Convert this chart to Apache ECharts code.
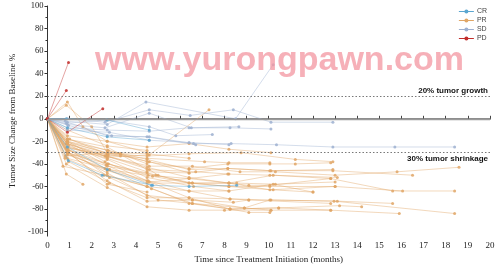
<!DOCTYPE html>
<html><head><meta charset="utf-8">
<script src="https://cdn.jsdelivr.net/npm/echarts@6/dist/echarts.min.js"></script>
<style>html,body{margin:0;padding:0;background:#fff}#c{width:498px;height:269px}</style>
</head><body><div id="c"></div>
<script>
// ---- data ----
const categories = ['CR', 'PR', 'SD', 'PD'];
const xTicks = [0,1,2,3,4,5,6,7,8,9,10,11,12,13,14,15,16,17,18,19,20];
const yTicks = [-100,-80,-60,-40,-20,0,20,40,60,80,100];
const yMinorTicks = [-90,-70,-50,-30,-10,10,30,50,70,90];
const refLines = [20, -30];
const refLabels = ['20% tumor growth', '30% tumor shrinkage'];

const prPatients = [
  [[0,0],[0.9,-18],[2.7,-28],[4.5,-38],[6.4,-44],[8.15,-40],[10.05,-40],[11.2,-40],[12.8,-39]],
  [[0,0],[0.85,-22],[2.6,-33],[4.6,-42],[6.55,-42],[8.7,-47],[10.3,-47],[13.0,-50],[15.8,-47],[18.6,-43]],
  [[0,0],[0.9,-25],[2.7,-35],[4.5,-47],[6.4,-48],[8.15,-44],[10.1,-46],[12.9,-46],[16.5,-50]],
  [[0,0],[0.95,-28],[2.75,-40],[4.55,-50],[6.4,-53],[8.15,-49],[10.05,-50],[13.1,-52]],
  [[0,0],[0.9,-30],[2.7,-42],[4.9,-50],[6.55,-57],[8.2,-57],[10.2,-50],[12.8,-53],[15.6,-64],[18.4,-64]],
  [[0,0],[0.9,-32],[2.8,-45],[4.75,-51],[6.4,-57],[8.2,-60],[10.05,-60],[13.0,-60],[16.05,-64]],
  [[0,0],[0.8,-35],[2.7,-50],[4.5,-60],[6.4,-64],[8.2,-64],[10.2,-58],[12.0,-65]],
  [[0,0],[0.9,-20],[2.6,-38],[4.5,-55],[6.4,-70],[8.25,-71],[10.1,-72],[13.1,-73],[15.6,-75]],
  [[0,0],[0.95,-30],[2.7,-48],[4.5,-68],[6.55,-72],[8.4,-74],[9.1,-72],[12.8,-75]],
  [[0,0],[0.9,-26],[2.8,-52],[5.0,-72],[6.55,-75],[8.25,-80],[10.45,-79],[13.2,-77],[14.2,-78]],
  [[0,0],[0.85,-40],[2.7,-61],[4.5,-78],[6.4,-81],[8.0,-81],[10.1,-81],[12.8,-81],[15.9,-84]],
  [[0,0],[0.9,-30],[2.7,-55],[4.5,-73],[6.55,-72],[8.9,-79],[10.05,-72],[12.95,-73],[18.4,-84]],
  [[0,0],[0.7,-42],[2.55,-50],[4.5,-60],[6.4,-75],[8.25,-80],[9.1,-83],[10.05,-83]],
  [[0,0],[0.85,-49],[1.6,-58]],
  [[0,0],[0.9,-15],[2.7,-20],[4.5,-25],[6.4,-22],[8.2,-27],[10.1,-30]],
  [[0,0],[0.9,-20],[2.7,-31],[4.5,-33],[6.4,-31],[8.75,-30],[11.2,-36],[12.9,-38]],
  [[0,0],[0.9,-22],[2.7,-32],[4.5,-35],[7.1,-38],[8.2,-39],[10.05,-39]],
  [[0,0],[1.0,-18],[2.7,-31],[3.3,-31],[4.5,-40]],
  [[0,0],[0.9,-28],[2.65,-33],[4.6,-45],[5.0,-50]],
  [[0,0],[0.9,15],[1.6,-7],[2.7,-20],[4.5,-30]],
  [[0,0],[0.85,12],[2.0,-7],[2.7,-30],[4.6,-38],[6.4,-48]],
  [[0,0],[0.9,-22],[2.7,-34],[4.6,-32],[7.3,8]],
  [[0,0],[0.9,-25],[2.7,-33],[4.5,-43],[6.4,-52],[8.2,-57],[10.05,-63],[13.0,-60]],
  [[0,0],[0.95,-24],[2.7,-36],[4.5,-52],[6.6,-60],[8.2,-64]],
  [[0,0],[0.9,-35],[2.8,-45],[4.55,-55],[6.4,-64],[8.25,-71],[9.1,-72]],
  [[0,0],[0.9,-30],[2.7,-40],[4.5,-48],[6.4,-57],[8.55,-57],[10.3,-58],[13.0,-56]],
  [[0,0],[0.9,-27],[2.6,-44],[4.7,-62],[6.55,-75],[8.9,-79],[10.1,-81]],
  [[0,0],[0.8,-33],[2.7,-30],[3.3,-31]],
  [[0,0],[0.9,-20],[2.75,-28],[4.5,-36],[6.4,-45],[8.15,-44],[10.05,-46],[12.9,-45]],
  [[0,0],[0.9,-31],[2.7,-46],[4.6,-56],[6.4,-53],[8.2,-57],[9.1,-59],[10.05,-59],[12.8,-53]],
  [[0,0],[0.9,-18],[2.7,-25],[4.5,-45],[6.7,-47],[8.2,-49]],
  [[0,0],[0.95,-38],[2.8,-57],[4.5,-70],[6.4,-70],[8.25,-80],[10.45,-79],[12.8,-81]],
  [[0,0],[0.9,-29],[2.7,-58],[4.5,-65]],
  [[0,0],[0.9,-10],[2.7,-24],[4.5,-28]],
  [[0,0],[0.9,-22],[2.65,-41],[4.5,-57],[6.55,-57],[8.2,-60],[10.2,-63],[12.0,-65]],
  [[0,0],[0.9,-21],[2.7,-30],[4.5,-31],[6.4,-35]],
  [[0,0],[0.85,-26],[2.75,-32],[3.3,-33]]
];
const sdPatients = [
  [[0,0],[0.9,0],[2.6,-3],[4.6,8],[6.45,3],[8.4,8],[10.1,-3],[12.9,-3]],
  [[0,0],[0.8,-2],[2.7,-5],[4.45,15],[8.5,0],[10.2,48]],
  [[0,0],[0.9,-5],[2.6,-8],[4.6,5],[6.5,-8],[8.25,-8],[10.1,-9]],
  [[0,0],[0.9,-8],[2.7,-10],[4.6,-11],[6.4,-8],[8.65,-7]],
  [[0,0],[0.9,-3],[2.7,-15],[4.6,-16],[6.6,-22],[8.3,-22],[10.35,-23],[12.9,-25],[15.7,-25],[18.4,-25]],
  [[0,0],[0.9,-10],[2.8,-12],[4.6,-19],[6.4,-21],[8.2,-23]],
  [[0,0],[0.85,-4],[2.65,-1],[4.6,-7],[5.8,-15],[7.45,-14]],
  [[0,0],[0.95,-6],[2.9,-15],[4.5,-16],[6.7,-23]]
];
const crPatients = [
  [[0,0],[0.94,-37],[2.47,-50],[4.75,-59]],
  [[0,0],[0.9,-25],[2.7,-45],[4.7,-59],[6.4,-60],[8.55,-59]],
  [[0,0],[0.85,0],[2.7,-1],[4.6,-10]],
  [[0,0],[0.9,-8],[2.7,-16],[4.6,-19]]
];
const pdPatients = [
  [[0,0],[0.95,50]],
  [[0,0],[0.85,25]],
  [[0,0],[0.9,-12],[2.5,9]]
];

// ---- styles ----
const colors = { CR: '#5aa6d0', PR: '#e0a666', SD: '#9db0d0', PD: '#c22e2b' };
const groups = [
  ['PR', prPatients],
  ['SD', sdPatients],
  ['CR', crPatients],
  ['PD', pdPatients]
];

const series = [];
groups.forEach(([name, pts]) => {
  pts.forEach(p => {
    series.push({
      name: name,
      type: 'line',
      data: p,
      symbol: 'circle',
      symbolSize: 3,
      showSymbol: true,
      lineStyle: { color: colors[name], width: 0.8, opacity: 0.55 },
      itemStyle: { color: colors[name], opacity: 0.85 },
      z: name === 'PR' ? 2 : 3,
      silent: true,
      emphasis: { disabled: true }
    });
  });
});
series.unshift({
  name: 'ref',
  type: 'line',
  data: [],
  silent: true,
  markLine: {
    symbol: 'none',
    silent: true,
    animation: false,
    data: [
      { yAxis: 0, lineStyle: { color: '#9a9a9a', type: 'solid', width: 1.3 }, label: { show: false } },
      { yAxis: refLines[0], lineStyle: { color: '#777', type: [1.5, 2], width: 1 },
        label: { show: true, position: 'insideEndTop', formatter: refLabels[0], distance: [2, 1] } },
      { yAxis: refLines[1], lineStyle: { color: '#777', type: [1.5, 2], width: 1 },
        label: { show: true, position: 'insideEndBottom', formatter: refLabels[1], distance: [2, 2] } }
    ],
    label: { color: '#111', fontSize: 8, fontWeight: 'bold', fontFamily: 'Liberation Sans, Arial, sans-serif' }
  }
});

const chart = echarts.init(document.getElementById('c'), null, { renderer: 'canvas' });
chart.setOption({
  animation: false,
  backgroundColor: '#fff',
  grid: { left: 44, right: 8, top: 6, bottom: 31, containLabel: false },
  legend: {
    data: categories,
    orient: 'vertical',
    right: 6,
    top: 3,
    itemWidth: 15,
    itemHeight: 5,
    itemGap: 2,
    textStyle: { fontSize: 7, color: '#444', fontFamily: 'Liberation Sans, Arial, sans-serif', padding: [0, 0, 0, -2] },
    lineStyle: { opacity: 1, width: 1 },
    itemStyle: { opacity: 1 }
  },
  xAxis: {
    type: 'value',
    min: 0, max: 20, interval: 1,
    name: 'Time since Treatment Initiation (months)',
    nameLocation: 'middle',
    nameGap: 18,
    nameTextStyle: { fontFamily: 'Liberation Serif, Times New Roman, serif', fontSize: 9, color: '#222' },
    axisLine: { lineStyle: { color: '#8a8a8a', width: 2 } },
    axisTick: { inside: true, length: 3, lineStyle: { color: '#444', width: 1 } },
    axisLabel: { fontFamily: 'Liberation Serif, Times New Roman, serif', fontSize: 9, color: '#222', margin: 5 },
    splitLine: { show: false }
  },
  yAxis: [{
    type: 'value',
    min: -104, max: 100,
    position: 'left',
    name: 'Tumor Size Change from Baseline %',
    nameLocation: 'middle',
    nameGap: 29,
    nameRotate: 90,
    nameTextStyle: { fontFamily: 'Liberation Serif, Times New Roman, serif', fontSize: 9, color: '#222' },
    axisLine: { show: true, lineStyle: { color: '#333', width: 1 } },
    axisTick: { show: true, customValues: yTicks, length: 3, lineStyle: { color: '#333' } },
    axisLabel: { customValues: yTicks, fontFamily: 'Liberation Serif, Times New Roman, serif', fontSize: 8.5, color: '#222', margin: 4 },
    splitLine: { show: false }
  }, {
    type: 'value',
    min: -104, max: 100,
    position: 'left',
    offset: 0,
    axisLine: { show: false },
    axisTick: { show: true, customValues: yMinorTicks, length: 2, lineStyle: { color: '#333' } },
    axisLabel: { show: false },
    splitLine: { show: false }
  }],
  graphic: [{
    type: 'text',
    left: 95,
    top: 44,
    z: 100,
    silent: true,
    style: {
      text: 'www.yurongpawn.com',
      font: 'bold 34px "Liberation Sans", Arial, sans-serif',
      fill: 'rgba(243,150,160,0.75)'
    }
  }],
  series: series
});
</script>
</body></html>
